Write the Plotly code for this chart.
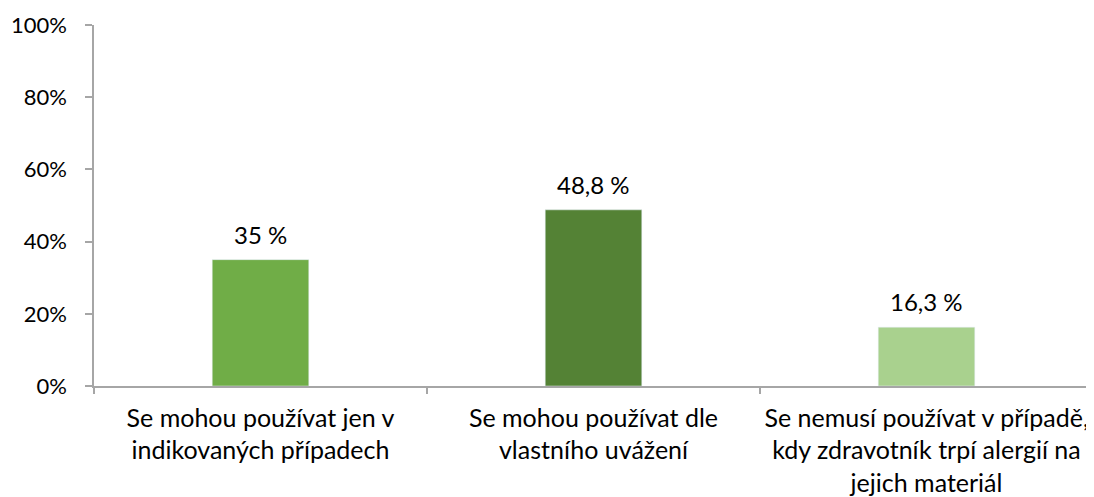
import plotly.graph_objects as go

categories = [
    "Se mohou používat jen v<br>indikovaných případech",
    "Se mohou používat dle<br>vlastního uvážení",
    "Se nemusí používat v případě,<br>kdy zdravotník trpí alergií na<br>jejich materiál",
]
values = [0.35, 0.488, 0.163]
value_labels = ["35 %", "48,8 %", "16,3 %"]
colors = ["#70AD47", "#548235", "#A9D18E"]
y_tick_vals = [0, 0.2, 0.4, 0.6, 0.8, 1.0]
y_tick_text = ["0%", "20%", "40%", "60%", "80%", "100%"]

FONT = "Lato"
AX = "#A6A6A6"

fig = go.Figure()
fig.add_trace(go.Bar(
    x=categories, y=values, marker_color=colors, width=0.29,
    hoverinfo="skip",
))
# invisible trace on overlay axis for boundary ticks
fig.add_trace(go.Scatter(x=[-0.5, 2.5], y=[0, 0], xaxis="x2", mode="markers",
                         marker=dict(opacity=0), hoverinfo="skip", showlegend=False))

for c, v, t in zip(categories, values, value_labels):
    fig.add_annotation(x=c, y=v, text=t, showarrow=False, yanchor="bottom",
                       yshift=9, font=dict(family=FONT, size=24, color="#000000"))

# page body has an 8px margin, so the figure is sized to fit inside the window
fig.update_layout(
    width=1086, height=489,
    margin=dict(l=86, r=1, t=17, b=111, autoexpand=False),
    plot_bgcolor="white", paper_bgcolor="white",
    showlegend=False,
    font=dict(family=FONT, size=22, color="#000000"),
    xaxis=dict(
        type="category", showline=True, linecolor=AX, linewidth=1.5,
        ticks="", showgrid=False, tickfont=dict(family=FONT, size=25),
        ticklabelstandoff=9, automargin=False,
    ),
    xaxis2=dict(
        overlaying="x", range=[-0.5, 2.5], tickvals=[-0.5, 0.5, 1.5],
        ticktext=["", "", ""], ticks="outside", ticklen=7, tickcolor=AX,
        tickwidth=1.5, showline=False, showgrid=False, zeroline=False,
        side="bottom", anchor="y", automargin=False,
    ),
    yaxis=dict(
        range=[0, 1], tickvals=y_tick_vals, ticktext=y_tick_text,
        showline=True, linecolor=AX, linewidth=1.5, ticks="outside",
        ticklen=7, tickcolor=AX, tickwidth=1.5, showgrid=False,
        zeroline=False, tickfont=dict(family=FONT, size=22),
        ticklabelstandoff=14, automargin=False,
    ),
    bargap=0.71,
)

fig.write_html("out.html")
